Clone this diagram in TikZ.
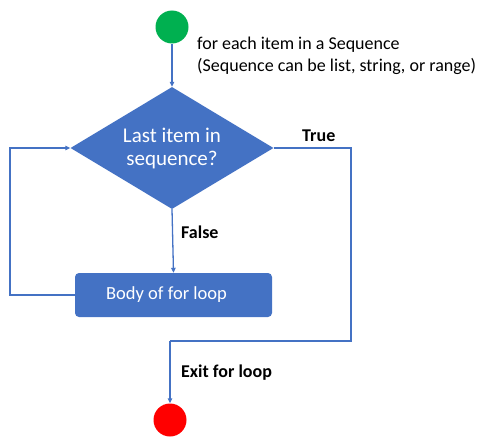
\documentclass[tikz,border=0pt]{standalone}
\usepackage{fontspec}
\setmainfont{Carlito}
\usetikzlibrary{shapes.geometric,arrows.meta}
\definecolor{flowblue}{HTML}{4472C4}
\definecolor{startgreen}{HTML}{00B050}
\definecolor{endred}{HTML}{FF0000}
\begin{document}
\begin{tikzpicture}[x=1pt,y=-1pt,
  conn/.style={draw=flowblue,line width=1.3pt,-{Triangle[length=5pt,width=4.5pt]}},
  plainline/.style={draw=flowblue,line width=1.3pt},
  lbl/.style={font=\fontsize{18}{20}\selectfont\bfseries,text=black,inner sep=0pt,anchor=base west},
  dec/.style={diamond,fill=flowblue,draw=none,minimum width=203pt,minimum height=122pt,inner sep=0pt,aspect=1.66,text=white,align=center,font=\fontsize{21}{23}\selectfont},
  proc/.style={rectangle,rounded corners=4pt,fill=flowblue,minimum width=197pt,minimum height=44pt,text=white,font=\fontsize{18.5}{21}\selectfont,inner sep=0pt},
  term/.style={circle,minimum size=33pt,inner sep=0pt}]
\useasboundingbox (0,0) rectangle (490,444);
\node[term,fill=startgreen] (start) at (172,27) {};
\node[anchor=base west,inner sep=0pt,align=left,font=\fontsize{18}{22}\selectfont] (note) at (197,71) {for each item in a Sequence\\(Sequence can be list, string, or range)};
\node[dec] (dec) at (172,148) {Last item in\\sequence?};
\node[proc] (body) at (173.5,295) {Body of for loop\hspace*{14pt}};
\node[term,fill=endred] (stop) at (170,420) {};
\coordinate (r1) at (351,148);
\coordinate (r2) at (351,341);
\coordinate (r3) at (170,341);
\coordinate (l1) at (10,295);
\coordinate (l2) at (10,148);
\draw[conn] (start) -- (dec.north);
\draw[conn] (dec.south) -- (body.north);
\draw[plainline] (dec.east) -- (r1) -- (r2) -- (r3);
\draw[conn] (r3) -- (stop.north);
\draw[conn] (body.west) -- (l1) -- (l2) -- (dec.west);
\node[lbl] (truel) at (302,141) {True};
\node[lbl] (falsel) at (181,238) {False};
\node[lbl] (exitl) at (181,377) {Exit for loop};
\end{tikzpicture}
\end{document}
